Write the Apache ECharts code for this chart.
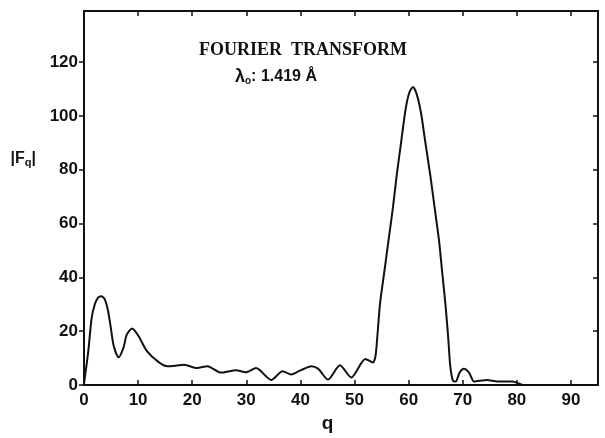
<!DOCTYPE html>
<html>
<head>
<meta charset="utf-8">
<script src="https://cdn.jsdelivr.net/npm/echarts@6/dist/echarts.min.js"></script>
<style>
html,body{margin:0;padding:0;background:#fff;}
#chart{width:605px;height:438px;}
</style>
</head>
<body>
<div id="chart"></div>
<script>
// Data
var qValues = [0, 0.8, 1.4, 2.0, 2.6, 3.2, 3.8, 4.4, 4.9, 5.5, 6.4, 7.3, 7.9, 8.9, 10.1, 11.6, 13.8, 15.4, 17, 18.5, 20.9, 22.8, 25.3, 28.1, 29.9, 31.8, 34.6, 36.7, 38.3, 40.1, 42, 43.3, 45.1, 47.3, 49.4, 52, 53.4, 53.9, 54.7, 55.5, 56.3, 57.1, 57.8, 58.6, 59.4, 60.1, 60.8, 61.5, 62.3, 63.1, 64, 64.8, 65.6, 66.2, 66.8, 67.3, 67.7, 68.2, 68.7, 69.4, 70.2, 71.2, 72.1, 74.5, 76.4, 79.2, 80.7, 81];
var fValues = [0.5, 12.7, 24.7, 30, 32.5, 33, 32, 28, 22, 14.5, 10.3, 13.9, 18.7, 21, 18.1, 12.7, 8.5, 7, 7.2, 7.5, 6.3, 7, 4.6, 5.5, 4.7, 6.3, 1.9, 5.1, 3.9, 5.5, 7, 6, 2, 7.3, 2.8, 9.7, 8.4, 11, 30, 42, 54, 66, 78, 90, 102, 108.5, 110.8, 108, 101, 90, 78, 66, 54, 42, 30, 18, 7, 1.5, 1.3, 4.5, 6, 4.5, 1.3, 1.9, 1.3, 1.3, 0.3, 0];
var xTicks = [0, 10, 20, 30, 40, 50, 60, 70, 80, 90];
var yTicks = [0, 20, 40, 60, 80, 100, 120];
var titleText = 'FOURIER  TRANSFORM';
var lambdaText = ': 1.419 Å';

var points = qValues.map(function (q, i) { return [q, fValues[i]]; });

var chart = echarts.init(document.getElementById('chart'), null, {renderer: 'canvas'});
var labelFont = {color: '#111', fontFamily: 'Liberation Sans', fontWeight: 'bold', fontSize: 17};
var axisLine = {show: true, onZero: false, lineStyle: {color: '#111', width: 2}};

chart.setOption({
  animation: false,
  backgroundColor: '#fff',
  grid: {left: 84, right: 7, top: 11, bottom: 41, containLabel: false},
  xAxis: [{
    type: 'value', min: 0, max: 95, interval: 10, position: 'bottom',
    axisLine: axisLine, splitLine: {show: false},
    axisTick: {show: true, inside: true, length: 5, lineStyle: {color: '#111', width: 1.5}},
    axisLabel: Object.assign({margin: 7, showMaxLabel: false,
      formatter: function (v) { return xTicks.indexOf(v) >= 0 ? String(v) : ''; }}, labelFont),
    name: 'q', nameLocation: 'middle', nameGap: 29,
    nameTextStyle: {color: '#111', fontFamily: 'Liberation Sans', fontWeight: 'bold', fontSize: 19, padding: [0, 0, 0, -27]}
  }, {
    type: 'value', min: 0, max: 95, interval: 10, position: 'top',
    axisLine: axisLine, splitLine: {show: false},
    axisTick: {show: true, inside: true, length: 5, lineStyle: {color: '#111', width: 1.5}},
    axisLabel: {show: false}
  }],
  yAxis: [{
    type: 'value', min: 0, max: 139, interval: 20, position: 'left',
    axisLine: axisLine, splitLine: {show: false},
    axisTick: {show: true, inside: false, length: 5, lineStyle: {color: '#111', width: 1.5}},
    axisLabel: Object.assign({margin: 6, showMaxLabel: false,
      formatter: function (v) { return yTicks.indexOf(v) >= 0 ? String(v) : ''; }}, labelFont),
    name: '{a||F}{s|q}{a||}', nameLocation: 'middle', nameGap: 48, nameRotate: 0,
    nameTextStyle: {
      padding: [0, 0, 78, 0],
      rich: {
        a: {color: '#111', fontFamily: 'Liberation Sans', fontWeight: 'bold', fontSize: 16},
        s: {color: '#111', fontFamily: 'Liberation Sans', fontWeight: 'bold', fontSize: 11, verticalAlign: 'bottom', padding: [7, 0, 0, 0]}
      }
    }
  }, {
    type: 'value', min: 0, max: 139, interval: 20, position: 'right',
    axisLine: axisLine, splitLine: {show: false},
    axisTick: {show: true, inside: true, length: 5, lineStyle: {color: '#111', width: 1.5}},
    axisLabel: {show: false}
  }],
  graphic: [{
    type: 'text', left: 199, top: 41,
    style: {text: titleText, fill: '#111', font: 'bold 18px "Liberation Serif"'}
  }, {
    type: 'text', left: 235, top: 68,
    style: {
      text: '{l|λ}{s|o}{r|' + lambdaText + '}',
      rich: {
        l: {fill: '#111', font: 'bold 18px "Liberation Sans"'},
        s: {fill: '#111', font: 'bold 10px "Liberation Sans"', padding: [8, 0, 0, 0]},
        r: {fill: '#111', font: 'bold 16px "Liberation Sans"'}
      }
    }
  }],
  series: [{
    type: 'line', xAxisIndex: 0, yAxisIndex: 0,
    data: points, showSymbol: false, smooth: 0.25,
    lineStyle: {color: '#111', width: 2}
  }]
});
</script>
</body>
</html>
